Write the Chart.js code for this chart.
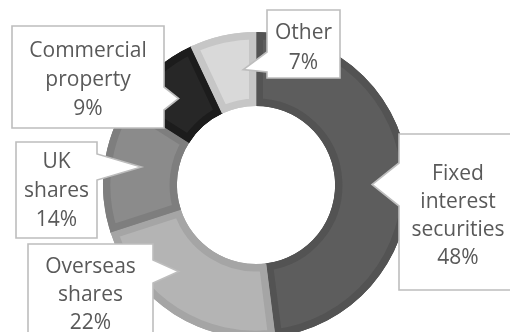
<!DOCTYPE html>
<html>
<head>
<meta charset="utf-8">
<script src="https://cdn.jsdelivr.net/npm/chart.js@4/dist/chart.umd.min.js"></script>
<style>
  html, body { margin: 0; padding: 0; background: #ffffff; overflow: hidden; }
  #wrap { position: relative; width: 510px; height: 332px; overflow: hidden; }
  canvas { display: block; }
</style>
</head>
<body>
<div id="wrap"><canvas id="chart" width="510" height="332"></canvas></div>
<script>
// Portfolio allocation, clockwise from 12 o'clock
const categories = ['Fixed interest securities', 'Overseas shares', 'UK shares', 'Commercial property', 'Other'];
const shares = [48, 22, 14, 9, 7];
// Category names as they wrap inside the callouts
const labelLines = [
  ['Fixed', 'interest', 'securities'],
  ['Overseas', 'shares'],
  ['UK', 'shares'],
  ['Commercial', 'property'],
  ['Other']
];

// Slice fill and the darker bevel band along each slice's edges
const sliceFills = ['#5d5d5d', '#b4b4b4', '#8b8b8b', '#272727', '#d9d9d9'];
const sliceBands = ['#535353', '#a5a5a5', '#7e7e7e', '#1c1c1c', '#c6c6c6'];

// Callout boxes: rectangle, the edge that faces the ring, the span of that
// edge where the pointer leaves the box, and the text baselines.
const calloutBoxes = [
  { x: 399, y: 134, w: 118, h: 156, edge: 'left',  base: [163, 206], firstLine: 179.5, step: 28 },
  { x: 28,  y: 244, w: 125, h: 104, edge: 'right', base: [260, 283], firstLine: 272.5, step: 28 },
  { x: 16,  y: 142, w: 81,  h: 96,  edge: 'right', base: [154, 180], firstLine: 167.5, step: 29 },
  { x: 12,  y: 26,  w: 152, h: 102, edge: 'right', base: [87, 110],  firstLine: 56.5,  step: 29 },
  { x: 267, y: 10,  w: 73,  h: 68,  edge: 'left',  base: [52, 72],   firstLine: 38.5,  step: 30 }
];

const TWO_PI = Math.PI * 2;
function angDist(a, b) {
  let d = Math.abs(a - b) % TWO_PI;
  return Math.min(d, TWO_PI - d);
}

// Pointer tip: a point on the ring's mid-radius, level with the pointer base
// when possible, kept within the inner half of the slice's angular span.
function tipFor(arc, box) {
  const p = arc.getProps(['x', 'y', 'startAngle', 'endAngle', 'innerRadius', 'outerRadius'], true);
  const rMid = (p.innerRadius + p.outerRadius) / 2;
  const by = (box.base[0] + box.base[1]) / 2;
  const edgeX = box.edge === 'left' ? box.x : box.x + box.w;
  const dy = by - p.y;
  let ang;
  if (Math.abs(dy) < rMid) {
    const dx = Math.sqrt(rMid * rMid - dy * dy) * (box.edge === 'left' ? 1 : -1);
    ang = Math.atan2(dy, dx);
  } else {
    ang = Math.atan2(dy, edgeX - p.x);
  }
  const span = p.endAngle - p.startAngle;
  const lo = p.startAngle + span * 0.25;
  const hi = p.endAngle - span * 0.25;
  while (ang < p.startAngle) ang += TWO_PI;
  while (ang >= p.startAngle + TWO_PI) ang -= TWO_PI;
  if (ang < lo || ang > hi) {
    ang = angDist(ang, lo) < angDist(ang, hi) ? lo : hi;
  }
  return { x: p.x + rMid * Math.cos(ang), y: p.y + rMid * Math.sin(ang) };
}

// Band-coloured underlay beneath each slice so neighbouring slices meet
// without a hairline gap.
const underlayPlugin = {
  id: 'underlay',
  beforeDatasetsDraw(chart) {
    const ctx = chart.ctx;
    const meta = chart.getDatasetMeta(0);
    meta.data.forEach((arc, i) => {
      const p = arc.getProps(['x', 'y', 'startAngle', 'endAngle', 'innerRadius', 'outerRadius'], true);
      const pad = 0.012;
      ctx.save();
      ctx.beginPath();
      ctx.arc(p.x, p.y, p.outerRadius, p.startAngle - pad, p.endAngle + pad);
      ctx.arc(p.x, p.y, p.innerRadius, p.endAngle + pad, p.startAngle - pad, true);
      ctx.closePath();
      ctx.fillStyle = sliceBands[i];
      ctx.fill();
      ctx.restore();
    });
  }
};

const calloutPlugin = {
  id: 'callouts',
  afterDatasetsDraw(chart) {
    const ctx = chart.ctx;
    const meta = chart.getDatasetMeta(0);
    const values = chart.data.datasets[0].data;
    meta.data.forEach((arc, i) => {
      const box = calloutBoxes[i];
      const tip = tipFor(arc, box);
      const L = box.x, R = box.x + box.w, T = box.y, B = box.y + box.h;
      ctx.save();
      ctx.beginPath();
      if (box.edge === 'right') {
        ctx.moveTo(L, T);
        ctx.lineTo(R, T);
        ctx.lineTo(R, box.base[0]);
        ctx.lineTo(tip.x, tip.y);
        ctx.lineTo(R, box.base[1]);
        ctx.lineTo(R, B);
        ctx.lineTo(L, B);
      } else {
        ctx.moveTo(L, T);
        ctx.lineTo(R, T);
        ctx.lineTo(R, B);
        ctx.lineTo(L, B);
        ctx.lineTo(L, box.base[1]);
        ctx.lineTo(tip.x, tip.y);
        ctx.lineTo(L, box.base[0]);
      }
      ctx.closePath();
      ctx.fillStyle = '#ffffff';
      ctx.fill();
      ctx.lineWidth = 1.6;
      ctx.strokeStyle = '#bdbdbd';
      ctx.lineJoin = 'miter';
      ctx.stroke();

      const lines = labelLines[i].concat([values[i] + '%']);
      ctx.fillStyle = '#595959';
      ctx.font = '21px "Open Sans", sans-serif';
      ctx.textAlign = 'center';
      ctx.textBaseline = 'alphabetic';
      const cx = box.x + box.w / 2;
      lines.forEach((t, k) => ctx.fillText(t, cx, box.firstLine + k * box.step));
      ctx.restore();
    });
  }
};

new Chart(document.getElementById('chart'), {
  type: 'doughnut',
  data: {
    labels: categories,
    datasets: [{
      data: shares,
      backgroundColor: sliceFills,
      borderColor: sliceBands,
      borderWidth: 7,
      borderAlign: 'inner',
      borderJoinStyle: 'miter',
      hoverOffset: 0,
      radius: 153,
      cutout: 76,
      clip: false
    }]
  },
  options: {
    responsive: false,
    animation: false,
    layout: { padding: { top: 38, left: 2, right: 0, bottom: 0 } },
    plugins: {
      legend: { display: false },
      tooltip: { enabled: false }
    },
    events: []
  },
  plugins: [underlayPlugin, calloutPlugin]
});
</script>
</body>
</html>
